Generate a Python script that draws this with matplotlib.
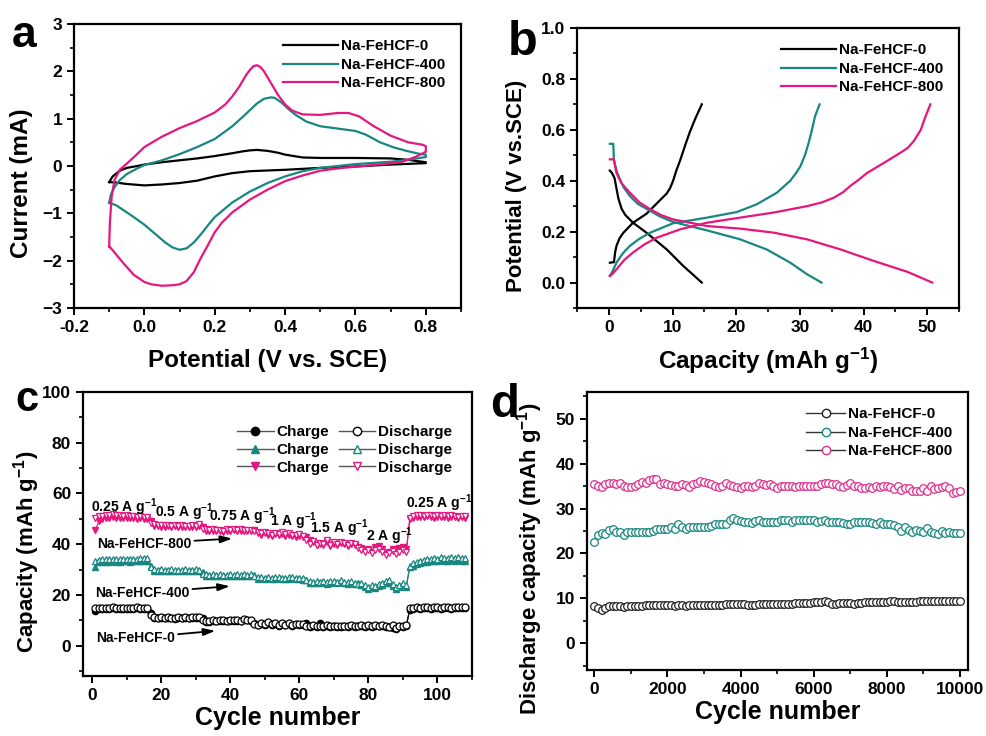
import numpy as np
import matplotlib
matplotlib.use('Agg')
from matplotlib import pyplot as plt
from matplotlib.lines import Line2D
from matplotlib.ticker import MultipleLocator, FormatStrFormatter

plt.rcParams['font.family'] = ['Liberation Sans', 'DejaVu Sans']
plt.rcParams['font.weight'] = 'bold'
plt.rcParams['axes.labelweight'] = 'bold'
plt.rcParams['mathtext.fontset'] = 'custom'
plt.rcParams['mathtext.rm'] = 'Liberation Sans:bold'
plt.rcParams['mathtext.default'] = 'rm'

BLACK = '#000000'
TEAL = '#17877f'
PINK = '#e6157f'
labels = ['Na-FeHCF-0', 'Na-FeHCF-400', 'Na-FeHCF-800']

# (a) CV loops
cv0_v = [-0.10, -0.09, -0.07, -0.05, -0.02, 0.00, 0.05, 0.10, 0.15, 0.20, 0.25, 0.28, 0.30, 0.32, 0.35,
         0.38, 0.40, 0.45, 0.50, 0.60, 0.70, 0.75, 0.80, 0.80, 0.70, 0.60, 0.50, 0.40, 0.30, 0.25,
         0.20, 0.15, 0.10, 0.05, 0.00, -0.05, -0.08, -0.10]
cv0_i = [-0.34, -0.22, -0.10, -0.04, 0.00, 0.03, 0.08, 0.12, 0.16, 0.21, 0.27, 0.31, 0.33, 0.34, 0.32,
         0.28, 0.24, 0.18, 0.17, 0.17, 0.16, 0.13, 0.08, 0.06, 0.03, -0.01, -0.04, -0.08, -0.11, -0.15,
         -0.22, -0.31, -0.36, -0.39, -0.41, -0.38, -0.35, -0.34]
cv400_v = [-0.10, -0.095, -0.085, -0.07, -0.05, -0.02, 0.00, 0.05, 0.10, 0.15, 0.20, 0.25, 0.28, 0.30,
           0.32, 0.34, 0.36, 0.37, 0.39, 0.41, 0.43, 0.46, 0.50, 0.55, 0.60, 0.63, 0.67, 0.71, 0.75,
           0.78, 0.80, 0.80, 0.75, 0.70, 0.60, 0.50, 0.45, 0.40, 0.35, 0.30, 0.25, 0.20, 0.18, 0.16,
           0.14, 0.12, 0.10, 0.08, 0.06, 0.03, 0.00, -0.03, -0.06, -0.08, -0.10]
cv400_i = [-0.78, -0.60, -0.45, -0.30, -0.17, -0.05, 0.02, 0.12, 0.25, 0.40, 0.57, 0.84, 1.04, 1.18,
           1.32, 1.42, 1.45, 1.44, 1.34, 1.20, 1.08, 0.94, 0.84, 0.79, 0.74, 0.66, 0.50, 0.39, 0.31,
           0.26, 0.24, 0.19, 0.13, 0.09, 0.04, -0.04, -0.11, -0.22, -0.36, -0.54, -0.77, -1.08, -1.26, -1.45,
           -1.62, -1.74, -1.77, -1.72, -1.62, -1.43, -1.24, -1.08, -0.93, -0.83, -0.78]
cv800_v = [-0.10, -0.098, -0.093, -0.085, -0.07, -0.05, -0.025, 0.00, 0.05, 0.10, 0.15, 0.20, 0.23,
           0.25, 0.27, 0.29, 0.30, 0.31, 0.32, 0.33, 0.34, 0.36, 0.38, 0.40, 0.42, 0.45, 0.50, 0.55,
           0.58, 0.61, 0.65, 0.70, 0.75, 0.79, 0.80, 0.80, 0.77, 0.73, 0.65, 0.55, 0.50, 0.45, 0.40,
           0.35, 0.30, 0.25, 0.22, 0.20, 0.18, 0.16, 0.14, 0.12, 0.10, 0.08, 0.05, 0.02, 0.00, -0.03,
           -0.06, -0.09, -0.10]
cv800_i = [-1.70, -1.20, -0.65, -0.30, -0.08, 0.05, 0.22, 0.40, 0.62, 0.80, 0.95, 1.13, 1.30,
           1.47, 1.68, 1.93, 2.03, 2.11, 2.13, 2.09, 2.00, 1.75, 1.50, 1.30, 1.17, 1.09, 1.08, 1.12,
           1.12, 1.05, 0.85, 0.64, 0.50, 0.45, 0.42, 0.30, 0.19, 0.08, 0.02, -0.05, -0.10, -0.20, -0.32,
           -0.50, -0.71, -0.98, -1.20, -1.40, -1.68, -1.95, -2.25, -2.43, -2.50, -2.52, -2.53, -2.50, -2.45, -2.30,
           -2.05, -1.78, -1.70]

# (b) charge / discharge curves
ch0_q = [0.16, 0.8, 1.0, 1.2, 1.7, 2.3, 3.8, 5.9, 7.5, 9.1, 9.6, 10.1, 10.6, 11.2, 12.0, 12.7, 13.6, 14.6]
ch0_v = [0.078, 0.08, 0.12, 0.144, 0.175, 0.196, 0.235, 0.27, 0.31, 0.35, 0.37, 0.40, 0.44, 0.48,
         0.54, 0.59, 0.645, 0.70]
dis0_q = [0.16, 0.5, 0.9, 1.2, 1.5, 2.0, 2.6, 3.8, 5.9, 9.1, 11.7, 14.6]
dis0_v = [0.44, 0.43, 0.41, 0.37, 0.33, 0.29, 0.265, 0.235, 0.196, 0.13, 0.065, 0.0]
ch400_q = [0.16, 0.6, 1.2, 2.2, 3.3, 4.8, 6.5, 10.1, 15.4, 20.1, 23.2, 26.4, 28.5, 29.4, 30.1, 30.8,
           31.4, 31.9, 32.4, 33.1]
ch400_v = [0.026, 0.045, 0.078, 0.115, 0.144, 0.172, 0.196, 0.233, 0.255, 0.277, 0.307, 0.353, 0.40,
           0.43, 0.457, 0.50, 0.55, 0.60, 0.654, 0.70]
dis400_q = [0.16, 0.7, 0.8, 1.2, 1.5, 2.3, 3.3, 4.5, 5.9, 8.0, 10.1, 15.4, 20.6, 24.8, 28.5, 31.1, 33.4]
dis400_v = [0.545, 0.545, 0.48, 0.44, 0.42, 0.375, 0.34, 0.31, 0.29, 0.26, 0.238, 0.205, 0.17, 0.13,
            0.078, 0.033, 0.0]
ch800_q = [0.16, 0.6, 1.2, 2.4, 3.8, 5.6, 7.5, 11.2, 15.4, 20.6, 25.9, 31.1, 33.5, 35.3, 36.8, 37.9,
           39.3, 40.6, 43.2, 45.8, 47.0, 47.9, 48.5, 49.0, 49.7, 50.5]
ch800_v = [0.026, 0.035, 0.052, 0.088, 0.118, 0.15, 0.176, 0.209, 0.235, 0.255, 0.275, 0.30, 0.315,
           0.333, 0.355, 0.379, 0.405, 0.431, 0.47, 0.51, 0.53, 0.556, 0.58, 0.60, 0.65, 0.70]
dis800_q = [0.16, 0.8, 1.2, 2.0, 3.3, 4.8, 6.5, 8.2, 10.1, 15.4, 20.6, 25.9, 31.1, 36.4, 41.6, 46.9, 50.8]
dis800_v = [0.484, 0.484, 0.43, 0.39, 0.353, 0.315, 0.288, 0.265, 0.248, 0.222, 0.212, 0.196, 0.17,
            0.13, 0.085, 0.042, 0.0]

# (c) rate performance, cycles 1-108
cycles_c = np.arange(1, 109)
c0_charge = [13.7, 14.5, 14.6, 14.5, 14.6, 14.7, 14.6, 14.5, 14.6, 14.6, 14.5, 14.6, 14.7, 14.5, 14.6, 14.6,
             13.0, 10.8, 10.7, 10.8, 10.7, 10.8, 10.7, 10.6, 10.8, 10.7, 10.8, 10.7, 10.9, 11.0, 11.0,
             10.8, 9.3, 9.4, 9.6, 9.5, 9.6, 9.7, 9.5, 9.6, 9.7, 9.8, 9.5, 10.1, 9.9, 9.7,
             9.0, 8.0, 8.6, 8.1, 8.9, 8.2, 8.5, 7.8, 8.7, 8.0, 8.6, 7.9, 8.4, 8.1, 8.3,
             8.8, 7.4, 7.8, 7.5, 9.0, 7.4, 7.7, 7.5, 7.6, 7.5, 7.4, 7.6, 7.5, 7.7, 7.5,
             7.6, 7.7, 7.5, 7.8, 7.4, 7.7, 7.6, 7.9, 7.5, 7.2, 6.8, 6.6, 7.6, 7.3, 7.7,
             14.2, 14.6, 14.7, 14.6, 14.8, 14.7, 14.6, 14.8, 14.7, 14.6, 14.8, 14.7, 14.6, 14.7, 14.8, 14.7, 14.8]
c0_discharge = [14.8, 15.0, 15.0, 14.9, 15.0, 15.1, 15.0, 14.9, 15.0, 15.0, 14.9, 15.0, 15.1, 14.9, 15.0, 15.0,
                12.0, 11.2, 11.0, 11.1, 11.0, 11.1, 11.0, 10.9, 11.1, 11.0, 11.1, 11.0, 11.2, 11.3, 11.4,
                10.2, 9.6, 9.7, 9.9, 9.8, 9.9, 10.0, 9.8, 9.9, 10.0, 10.1, 9.8, 10.4, 10.2, 10.0,
                8.6, 8.2, 8.9, 8.4, 9.2, 8.5, 8.8, 8.1, 9.0, 8.3, 8.9, 8.2, 8.7, 8.4, 8.6,
                7.9, 7.6, 8.1, 7.8, 7.9, 7.7, 8.0, 7.8, 7.9, 7.8, 7.7, 7.9, 7.8, 8.0, 7.8,
                7.9, 8.0, 7.8, 8.1, 7.7, 8.0, 7.9, 8.2, 7.8, 7.5, 8.3, 6.9, 7.9, 7.6, 8.0,
                14.8, 15.0, 15.1, 15.0, 15.2, 15.1, 15.0, 15.2, 15.1, 15.0, 15.2, 15.1, 15.0, 15.1, 15.2, 15.1, 15.2]
c400_charge = [31.0, 32.8, 33.0, 33.1, 33.0, 33.2, 33.1, 33.0, 33.2, 33.3, 33.1, 33.3, 33.2, 33.4, 33.5, 33.4,
               31.5, 29.6, 29.5, 29.5, 29.4, 29.5, 29.5, 29.3, 29.5, 29.4, 29.5, 29.4, 29.3, 29.6, 29.5,
               29.0, 27.6, 27.5, 27.6, 27.4, 27.5, 27.5, 27.4, 27.5, 27.5, 27.6, 27.4, 27.5, 27.5, 27.6,
               27.7, 26.4, 26.5, 26.3, 26.5, 26.2, 26.4, 26.5, 26.3, 26.1, 26.4, 26.5, 26.2, 26.3, 26.0,
               25.9, 24.8, 24.5, 24.8, 24.6, 25.0, 24.4, 24.8, 24.9, 24.5, 25.3, 24.7, 24.4, 24.8, 24.3,
               24.5, 23.8, 23.0, 22.5, 23.0, 22.8, 23.4, 23.9, 24.5, 24.8, 23.5, 22.3, 23.2, 23.8, 23.2,
               30.8, 31.5, 32.0, 32.5, 32.8, 33.0, 33.2, 33.4, 33.3, 33.6, 33.4, 33.5, 33.7, 33.5, 33.6, 33.4, 33.5]
c400_discharge = [33.5, 33.8, 34.0, 34.1, 34.0, 34.2, 34.1, 34.0, 34.2, 34.3, 34.1, 34.3, 34.2, 34.5, 34.6, 34.4,
                  30.8, 30.2, 30.0, 30.1, 29.9, 30.0, 30.1, 29.8, 30.0, 29.9, 30.1, 30.0, 29.9, 30.2, 30.0,
                  28.4, 28.1, 28.0, 28.2, 27.9, 28.1, 28.0, 27.9, 28.1, 28.0, 28.2, 27.9, 28.1, 28.0, 28.2,
                  27.3, 26.9, 27.0, 26.8, 27.1, 26.7, 26.9, 27.0, 26.8, 26.6, 26.9, 27.1, 26.7, 26.8, 26.5,
                  25.8, 25.3, 25.0, 25.4, 25.1, 25.6, 24.9, 25.3, 25.5, 25.0, 26.0, 25.2, 24.9, 25.4, 24.8,
                  24.3, 24.8, 23.8, 23.2, 23.9, 23.4, 24.2, 24.8, 25.5, 26.0, 24.2, 23.0, 24.0, 24.6, 23.8,
                  31.5, 32.5, 33.0, 33.5, 33.8, 34.0, 34.2, 34.5, 34.3, 34.8, 34.5, 34.6, 34.9, 34.6, 34.8, 34.5, 34.7]
c800_charge = [45.7, 49.0, 50.0, 50.3, 50.5, 50.6, 50.5, 50.4, 50.3, 50.4, 50.2, 50.3, 50.1, 50.2, 50.0, 49.9,
               49.0, 47.2, 47.0, 46.9, 46.9, 47.0, 46.8, 47.0, 46.7, 46.9, 46.8, 46.6, 46.9, 46.7, 47.3,
               46.8, 45.3, 45.2, 45.3, 45.0, 45.2, 44.9, 45.2, 45.0, 45.4, 45.2, 45.3, 45.0, 45.2, 45.0,
               45.5, 44.3, 43.6, 44.2, 43.8, 43.2, 43.9, 43.5, 44.0, 43.3, 43.7, 43.2, 43.0, 43.3, 42.8,
               42.8, 41.8, 40.8, 39.6, 40.2, 39.8, 40.8, 39.2, 40.2, 39.6, 40.5, 39.9, 39.4, 40.0, 39.5,
               39.0, 38.6, 37.5, 38.0, 37.0, 38.8, 39.2, 38.0, 36.5, 37.0, 38.2, 37.5, 38.5, 38.8, 38.0,
               49.8, 50.5, 50.7, 50.9, 50.6, 51.0, 50.7, 50.5, 50.8, 50.6, 50.9, 50.5, 50.7, 50.6, 50.4, 50.7, 50.5]
c800_discharge = [50.5, 51.0, 51.2, 51.5, 51.6, 51.8, 51.5, 51.3, 51.2, 51.4, 51.0, 51.1, 50.9, 51.0, 50.8, 50.7,
                  48.5, 47.8, 47.6, 47.5, 47.4, 47.6, 47.3, 47.5, 47.2, 47.4, 47.3, 47.1, 47.4, 47.2, 47.8,
                  46.0, 45.8, 45.6, 45.9, 45.4, 45.7, 45.2, 45.8, 45.5, 46.0, 45.6, 45.9, 45.4, 45.7, 45.5,
                  45.0, 44.8, 44.2, 44.9, 44.4, 43.8, 44.5, 44.1, 44.6, 43.9, 44.3, 43.8, 43.5, 43.9, 43.2,
                  41.5, 40.0, 41.2, 39.8, 40.6, 40.2, 41.5, 39.6, 40.8, 40.0, 41.0, 40.3, 39.8, 40.5, 40.0,
                  38.5, 37.8, 36.8, 37.5, 36.6, 37.8, 38.2, 36.9, 35.8, 36.5, 37.4, 36.2, 37.0, 37.6, 36.8,
                  50.5, 51.0, 51.3, 51.5, 51.2, 51.6, 51.3, 51.0, 51.4, 51.2, 51.5, 51.0, 51.3, 51.1, 50.9, 51.2, 51.0]
rate_labels = ['0.25 A g$^{-1}$', '0.5 A g$^{-1}$', '0.75 A g$^{-1}$', '1 A g$^{-1}$',
               '1.5 A g$^{-1}$', '2 A g$^{-1}$', '0.25 A g$^{-1}$']
rate_label_x = [9.4, 26.8, 43.4, 58.4, 71.7, 86.0, 100.6]
rate_label_y = [54.7, 52.7, 51.0, 49.1, 46.1, 43.0, 56.0]

# (d) long cycling, every 100 cycles
cycles_d = np.arange(0, 10001, 100)
d0 = [8.2, 7.9, 7.3, 7.8, 8.2, 8.2, 8.2, 8.2, 8.1, 8.2,
      8.3, 8.3, 8.3, 8.3, 8.4, 8.4, 8.4, 8.4, 8.4, 8.4,
      8.5, 8.4, 8.3, 8.4, 8.4, 8.3, 8.5, 8.5, 8.5, 8.6,
      8.6, 8.6, 8.6, 8.5, 8.6, 8.6, 8.7, 8.7, 8.7, 8.7,
      8.8, 8.7, 8.5, 8.5, 8.6, 8.7, 8.8, 8.8, 8.8, 8.7,
      8.8, 8.7, 8.8, 8.8, 8.8, 8.9, 9.0, 9.0, 9.0, 9.0,
      9.2, 9.1, 9.1, 9.3, 9.1, 8.8, 8.8, 8.9, 9.0, 9.0,
      8.9, 8.8, 8.9, 9.0, 9.1, 9.1, 9.2, 9.1, 9.1, 9.2,
      9.2, 9.3, 9.3, 9.2, 9.2, 9.1, 9.2, 9.2, 9.2, 9.3,
      9.3, 9.3, 9.3, 9.3, 9.3, 9.3, 9.3, 9.3, 9.3, 9.3,
      9.3]
d400 = [22.5, 24.0, 24.6, 24.3, 25.3, 25.4, 24.8, 24.7, 24.2, 24.8,
        24.7, 24.7, 24.7, 24.7, 24.8, 24.8, 25.0, 25.5, 25.4, 25.5,
        25.5, 25.8, 25.4, 26.5, 26.0, 25.5, 25.9, 26.0, 26.0, 26.0,
        25.9, 26.0, 26.2, 26.5, 26.5, 26.6, 26.5, 27.5, 28.0, 27.5,
        27.3, 26.9, 27.0, 26.8, 27.2, 27.5, 27.1, 27.0, 27.1, 27.0,
        27.1, 27.5, 27.5, 27.5, 27.0, 27.5, 27.5, 27.5, 27.5, 27.4,
        27.5, 27.1, 27.3, 27.5, 27.1, 27.0, 27.0, 27.0, 26.8, 26.6,
        26.5, 27.0, 27.0, 26.9, 27.0, 27.0, 26.7, 26.5, 27.0, 26.6,
        26.5, 26.5, 26.3, 26.0, 24.9, 26.0, 25.2, 24.8, 25.3, 25.0,
        24.8, 25.7, 24.8, 24.6, 24.3, 25.0, 24.6, 24.7, 24.6, 24.6,
        24.6]
d800 = [35.4, 35.0, 34.9, 35.5, 35.6, 35.6, 35.5, 35.6, 35.0, 34.9,
        34.8, 35.0, 35.5, 36.0, 35.6, 36.3, 36.6, 36.5, 35.5, 35.6,
        35.5, 35.2, 35.0, 35.0, 35.4, 35.2, 34.9, 35.4, 35.8, 36.1,
        36.0, 35.6, 35.4, 35.0, 34.9, 35.0, 35.6, 35.2, 35.0, 34.9,
        34.5, 35.0, 35.0, 34.9, 35.0, 35.6, 35.5, 35.2, 35.4, 35.0,
        34.6, 35.0, 35.1, 35.0, 35.0, 34.9, 35.0, 35.0, 35.1, 35.0,
        35.0, 35.0, 35.5, 35.6, 35.6, 35.5, 35.4, 35.0, 34.9, 35.2,
        35.6, 35.0, 35.0, 34.6, 34.5, 34.8, 34.7, 35.0, 34.8, 35.0,
        35.0, 34.8, 34.4, 35.0, 34.2, 34.6, 34.5, 34.0, 34.0, 34.0,
        34.5, 34.0, 35.0, 34.3, 34.5, 34.8, 35.0, 34.5, 33.5, 33.8,
        33.9]

W, H = 987, 736
fig = plt.figure(figsize=(W / 100, H / 100), dpi=100)


def px_axes(left, right, top, bottom):
    return fig.add_axes([left / W, 1 - bottom / H, (right - left) / W, (bottom - top) / H])


def style(ax, xmaj, xmin, ymaj, ymin):
    for s in ax.spines.values():
        s.set_linewidth(1.6)
    ax.xaxis.set_major_locator(MultipleLocator(xmaj))
    ax.xaxis.set_minor_locator(MultipleLocator(xmin))
    ax.yaxis.set_major_locator(MultipleLocator(ymaj))
    ax.yaxis.set_minor_locator(MultipleLocator(ymin))
    ax.tick_params(which='major', direction='out', length=5, width=1.4, labelsize=12.5)
    ax.tick_params(which='minor', direction='out', length=3, width=1.2)
    for t in ax.get_xticklabels() + ax.get_yticklabels():
        t.set_fontweight('bold')


# ---- a ----
ax = px_axes(74, 461, 24, 308)
ax.plot(cv0_v, cv0_i, color=BLACK, lw=1.6, label=labels[0])
ax.plot(cv400_v, cv400_i, color=TEAL, lw=1.6, label=labels[1])
ax.plot(cv800_v, cv800_i, color=PINK, lw=1.6, label=labels[2])
ax.set_xlim(-0.2, 0.9)
ax.set_ylim(-3, 3)
style(ax, 0.2, 0.1, 1, 0.5)
ax.xaxis.set_major_formatter(FormatStrFormatter('%.1f'))
ax.set_xlabel('Potential (V vs. SCE)', fontsize=17.5, labelpad=10)
ax.set_ylabel('Current (mA)', fontsize=17.5)
ax.yaxis.set_label_coords(-0.106, 0.44)
ax.legend(loc='upper right', frameon=False, fontsize=11, handlelength=3.6,
          handletextpad=0.2, labelspacing=0.3, borderaxespad=0.6)

# ---- b ----
ax = px_axes(577, 959, 28, 308)
for q1, v1, q2, v2, c, lab in [(ch0_q, ch0_v, dis0_q, dis0_v, BLACK, labels[0]),
                              (ch400_q, ch400_v, dis400_q, dis400_v, TEAL, labels[1]),
                              (ch800_q, ch800_v, dis800_q, dis800_v, PINK, labels[2])]:
    ax.plot(q1, v1, color=c, lw=1.6, label=lab)
    ax.plot(q2, v2, color=c, lw=1.6)
ax.set_xlim(-5, 55)
ax.set_ylim(-0.1, 1.0)
style(ax, 10, 5, 0.2, 0.1)
ax.yaxis.set_major_formatter(FormatStrFormatter('%.1f'))
ax.set_xlabel('Capacity (mAh g$^{-1}$)', fontsize=17.5, labelpad=8)
ax.set_ylabel('Potential (V vs.SCE)', fontsize=16)
ax.yaxis.set_label_coords(-0.131, 0.435)
ax.legend(loc='upper right', frameon=False, fontsize=11, handlelength=3.6,
          handletextpad=0.2, labelspacing=0.3, borderaxespad=0.6)

# ---- c ----
ax = px_axes(83, 472, 392, 676)
series_c = [(c0_charge, c0_discharge, BLACK, 'o'),
            (c400_charge, c400_discharge, TEAL, '^'),
            (c800_charge, c800_discharge, PINK, 'v')]
for ch, dis, c, m in series_c:
    ax.plot(cycles_c, ch, color=c, lw=0.8, marker=m, ms=4.5, mfc=c, mec=c)
    ax.plot(cycles_c, dis, color=c, lw=0.8, marker=m, ms=5, mfc='white', mec=c, mew=0.9)
for txt, x, y in zip(rate_labels, rate_label_x, rate_label_y):
    ax.text(x, y, txt, fontsize=10, ha='center', va='center', fontweight='bold')
arrow = dict(arrowstyle='-|>,head_length=0.7,head_width=0.22', color='k', lw=1.3, shrinkA=0, shrinkB=0)
ax.annotate(labels[2], xy=(40.6, 42.2), xytext=(15.2, 40.2), fontsize=10, ha='center', va='center',
            arrowprops=arrow)
ax.annotate(labels[1], xy=(39.9, 23.4), xytext=(14.6, 20.8), fontsize=10, ha='center', va='center',
            arrowprops=arrow)
ax.annotate(labels[0], xy=(35.7, 5.8), xytext=(12.7, 3.0), fontsize=10, ha='center', va='center',
            arrowprops=arrow)
ax.set_xlim(-2.6, 110)
ax.set_ylim(-12, 100)
style(ax, 20, 10, 20, 10)
ax.set_xlabel('Cycle number', fontsize=18, labelpad=2)
ax.set_ylabel('Capacity (mAh g$^{-1}$)', fontsize=16)
ax.yaxis.set_label_coords(-0.105, 0.437)
handles = []
for ch, dis, c, m in series_c:
    handles.append(Line2D([], [], color='#555555', lw=1, marker=m, ms=6, mfc=c, mec=c))
for ch, dis, c, m in series_c:
    handles.append(Line2D([], [], color='#555555', lw=1, marker=m, ms=6, mfc='white', mec=c))
ax.legend(handles, ['Charge'] * 3 + ['Discharge'] * 3, ncol=2, loc='upper right',
          bbox_to_anchor=(0.965, 0.905), frameon=False, fontsize=11, handlelength=2.4,
          handletextpad=0.2, labelspacing=0.25, columnspacing=0.6, borderaxespad=0)

# ---- d ----
ax = px_axes(587, 968, 392, 670)
d_colors = ['#222222', TEAL, '#e0308f']
for vals, c, lab in zip([d0, d400, d800], d_colors, labels):
    ax.plot(cycles_d, vals, color=c, lw=0.6, marker='o', ms=5.5, mfc='white', mec=c, mew=0.9, label=lab)
ax.set_xlim(-200, 10220)
ax.set_ylim(-6, 56)
style(ax, 2000, 1000, 10, 5)
ax.set_xlabel('Cycle number', fontsize=18, labelpad=2)
ax.set_ylabel('Discharge capacity (mAh g$^{-1}$)', fontsize=16)
ax.yaxis.set_label_coords(-0.11, 0.40)
handles = [Line2D([], [], color='#333333', lw=1, marker='o', ms=6, mfc='white', mec=c) for c in d_colors]
ax.legend(handles, labels, loc='upper right', frameon=False, fontsize=11, handlelength=2.6,
          handletextpad=0.2, labelspacing=0.3, borderaxespad=0.6)

# panel letters
for letter, x, y, size in [('a', 12, 47, 32), ('b', 508, 55, 35), ('c', 15, 411, 30), ('d', 490, 417, 34)]:
    fig.text(x / W, 1 - y / H, letter, fontsize=size, fontweight='bold', va='baseline')

fig.savefig('out.png', dpi=100)
